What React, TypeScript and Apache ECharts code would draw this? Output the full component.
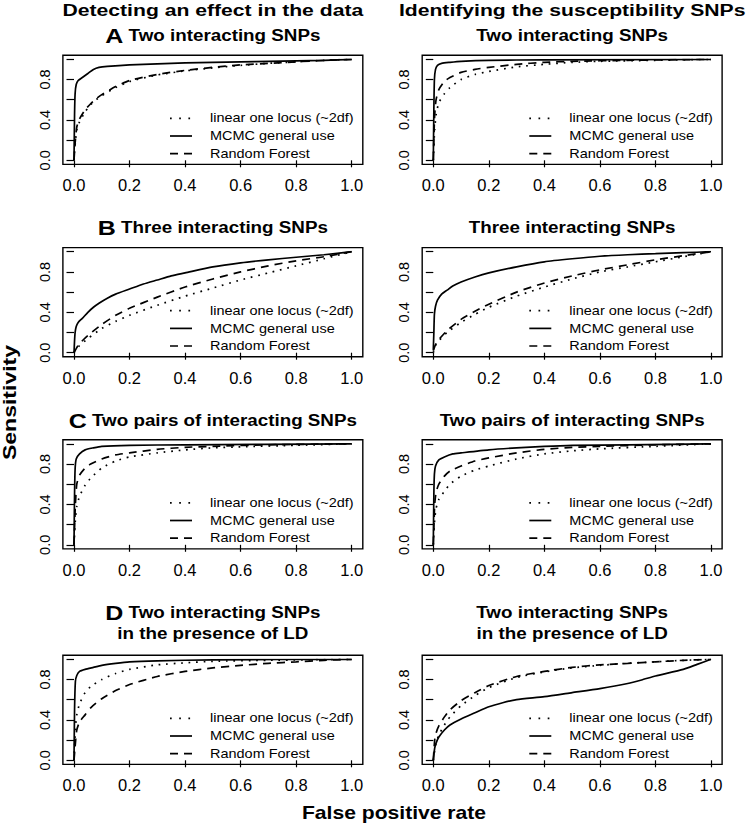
import React, { useEffect, useRef } from "react";
import * as echarts from "echarts";

const W = 747;
const H = 827;
const FONT = "Liberation Sans";

// ---------- data (false positive rate, sensitivity) ----------
const aL_linear = [[0,0],[0.003,0.12],[0.005,0.18],[0.01,0.3],[0.02,0.38],[0.04,0.48],[0.06,0.55],[0.08,0.6],[0.1,0.64],[0.15,0.72],[0.2,0.78],[0.3,0.845],[0.4,0.885],[0.5,0.915],[0.6,0.94],[0.7,0.96],[0.8,0.975],[0.9,0.99],[1,1]];
const aL_mcmc = [[0,0],[0.002,0.45],[0.004,0.66],[0.008,0.75],[0.015,0.79],[0.03,0.82],[0.05,0.86],[0.07,0.9],[0.09,0.92],[0.12,0.93],[0.2,0.945],[0.3,0.955],[0.4,0.965],[0.5,0.97],[0.6,0.975],[0.7,0.98],[0.8,0.985],[0.9,0.99],[1,1]];
const aL_rf = [[0,0],[0.003,0.13],[0.005,0.2],[0.01,0.33],[0.02,0.41],[0.04,0.5],[0.06,0.56],[0.08,0.61],[0.1,0.65],[0.15,0.73],[0.2,0.79],[0.3,0.85],[0.4,0.89],[0.5,0.92],[0.6,0.945],[0.7,0.96],[0.8,0.975],[0.9,0.99],[1,1]];

const aR_linear = [[0,0],[0.003,0.2],[0.005,0.3],[0.01,0.45],[0.02,0.57],[0.04,0.66],[0.06,0.72],[0.1,0.8],[0.15,0.85],[0.2,0.88],[0.3,0.925],[0.4,0.95],[0.5,0.97],[0.6,0.98],[0.8,0.99],[1,1]];
const aR_mcmc = [[0,0],[0.002,0.5],[0.004,0.8],[0.008,0.9],[0.015,0.94],[0.03,0.96],[0.06,0.97],[0.1,0.98],[0.2,0.99],[0.4,0.995],[1,1]];
const aR_rf = [[0,0],[0.003,0.3],[0.005,0.45],[0.01,0.6],[0.02,0.7],[0.04,0.78],[0.06,0.82],[0.1,0.87],[0.15,0.9],[0.2,0.92],[0.3,0.95],[0.4,0.97],[0.5,0.98],[0.7,0.99],[1,1]];

const bL_linear = [[0,0],[0.01,0.04],[0.02,0.07],[0.05,0.14],[0.1,0.24],[0.15,0.31],[0.2,0.37],[0.3,0.47],[0.4,0.56],[0.5,0.64],[0.6,0.72],[0.7,0.79],[0.8,0.86],[0.9,0.93],[1,1]];
const bL_mcmc = [[0,0],[0.002,0.12],[0.004,0.2],[0.008,0.26],[0.015,0.3],[0.03,0.34],[0.05,0.4],[0.07,0.45],[0.09,0.49],[0.12,0.54],[0.15,0.58],[0.2,0.63],[0.25,0.68],[0.3,0.72],[0.35,0.76],[0.4,0.79],[0.5,0.85],[0.6,0.89],[0.7,0.92],[0.8,0.945],[0.9,0.97],[1,1]];
const bL_rf = [[0,0],[0.01,0.05],[0.02,0.09],[0.05,0.17],[0.1,0.28],[0.15,0.37],[0.2,0.44],[0.3,0.55],[0.4,0.65],[0.5,0.73],[0.6,0.8],[0.7,0.86],[0.8,0.91],[0.9,0.95],[1,1]];

const bR_linear = [[0,0],[0.005,0.05],[0.01,0.08],[0.02,0.12],[0.05,0.2],[0.1,0.3],[0.15,0.38],[0.2,0.45],[0.3,0.56],[0.4,0.65],[0.5,0.73],[0.6,0.8],[0.7,0.85],[0.8,0.9],[0.9,0.95],[1,1]];
const bR_mcmc = [[0,0.03],[0.002,0.2],[0.004,0.38],[0.008,0.46],[0.015,0.52],[0.03,0.58],[0.05,0.62],[0.07,0.66],[0.1,0.7],[0.15,0.75],[0.2,0.79],[0.3,0.85],[0.4,0.9],[0.5,0.93],[0.6,0.955],[0.7,0.97],[0.8,0.98],[0.9,0.99],[1,1]];
const bR_rf = [[0,0.02],[0.005,0.06],[0.01,0.09],[0.02,0.13],[0.05,0.22],[0.1,0.33],[0.15,0.41],[0.2,0.48],[0.3,0.6],[0.4,0.69],[0.5,0.76],[0.6,0.82],[0.7,0.87],[0.8,0.92],[0.9,0.96],[1,1]];

const cL_linear = [[0,0],[0.003,0.15],[0.005,0.25],[0.01,0.38],[0.02,0.48],[0.04,0.59],[0.06,0.66],[0.1,0.76],[0.15,0.83],[0.2,0.87],[0.3,0.91],[0.4,0.94],[0.5,0.96],[0.6,0.97],[0.8,0.985],[1,1]];
const cL_mcmc = [[0,0],[0.002,0.5],[0.004,0.75],[0.008,0.85],[0.02,0.9],[0.04,0.94],[0.07,0.96],[0.1,0.975],[0.2,0.985],[0.4,0.99],[1,1]];
const cL_rf = [[0,0],[0.003,0.25],[0.005,0.4],[0.01,0.6],[0.02,0.69],[0.04,0.76],[0.06,0.8],[0.1,0.85],[0.15,0.89],[0.2,0.91],[0.3,0.945],[0.4,0.965],[0.5,0.975],[0.7,0.99],[1,1]];

const cR_linear = [[0,0],[0.003,0.15],[0.005,0.25],[0.01,0.36],[0.02,0.45],[0.04,0.53],[0.06,0.6],[0.1,0.68],[0.15,0.74],[0.2,0.78],[0.3,0.85],[0.4,0.9],[0.5,0.93],[0.6,0.95],[0.8,0.975],[1,1]];
const cR_mcmc = [[0,0],[0.002,0.5],[0.004,0.7],[0.008,0.78],[0.02,0.84],[0.04,0.87],[0.07,0.9],[0.1,0.91],[0.2,0.94],[0.3,0.96],[0.4,0.975],[0.5,0.985],[0.7,0.99],[1,1]];
const cR_rf = [[0,0],[0.003,0.25],[0.005,0.4],[0.01,0.52],[0.02,0.6],[0.04,0.68],[0.06,0.73],[0.1,0.78],[0.15,0.83],[0.2,0.86],[0.3,0.91],[0.4,0.945],[0.5,0.965],[0.6,0.975],[0.8,0.99],[1,1]];

const dL_linear = [[0,0],[0.003,0.2],[0.006,0.35],[0.01,0.45],[0.02,0.56],[0.04,0.67],[0.06,0.73],[0.1,0.8],[0.15,0.86],[0.2,0.9],[0.3,0.945],[0.4,0.965],[0.5,0.98],[0.7,0.99],[1,1]];
const dL_mcmc = [[0,0],[0.002,0.5],[0.005,0.78],[0.01,0.84],[0.02,0.88],[0.04,0.9],[0.07,0.92],[0.1,0.94],[0.15,0.96],[0.2,0.975],[0.3,0.985],[0.5,0.995],[1,1]];
const dL_rf = [[0,0],[0.003,0.1],[0.006,0.2],[0.01,0.3],[0.02,0.38],[0.04,0.45],[0.06,0.52],[0.1,0.61],[0.15,0.69],[0.2,0.75],[0.3,0.83],[0.4,0.88],[0.5,0.915],[0.6,0.94],[0.7,0.96],[0.8,0.975],[0.9,0.99],[1,1]];

const dR_linear = [[0,0],[0.005,0.1],[0.01,0.17],[0.02,0.25],[0.04,0.35],[0.06,0.43],[0.1,0.54],[0.15,0.64],[0.2,0.72],[0.3,0.82],[0.4,0.875],[0.5,0.915],[0.6,0.94],[0.7,0.96],[0.8,0.975],[0.9,0.99],[1,1]];
const dR_mcmc = [[0,0],[0.005,0.12],[0.01,0.17],[0.02,0.23],[0.04,0.3],[0.06,0.35],[0.1,0.41],[0.15,0.47],[0.2,0.53],[0.25,0.57],[0.3,0.6],[0.4,0.63],[0.5,0.67],[0.6,0.71],[0.7,0.76],[0.75,0.795],[0.8,0.835],[0.9,0.9],[0.95,0.95],[1,1]];
const dR_rf = [[0,0],[0.005,0.2],[0.01,0.27],[0.02,0.34],[0.04,0.43],[0.06,0.5],[0.1,0.59],[0.15,0.67],[0.2,0.74],[0.3,0.83],[0.4,0.88],[0.5,0.92],[0.6,0.945],[0.7,0.96],[0.8,0.975],[0.9,0.99],[1,1]];

const seriesNames = ["linear one locus (~2df)", "MCMC general use", "Random Forest"];
const columnHeaders = ["Detecting an effect in the data", "Identifying the susceptibility SNPs"];
const rowLetters = ["A", "B", "C", "D"];
const rowTitles = [
  ["Two interacting SNPs"],
  ["Three interacting SNPs"],
  ["Two pairs of interacting SNPs"],
  ["Two interacting SNPs", "in the presence of LD"],
];
const xAxisTitle = "False positive rate";
const yAxisTitle = "Sensitivity";

const panels = [
  { row: 0, col: 0, data: [aL_linear, aL_mcmc, aL_rf] },
  { row: 0, col: 1, data: [aR_linear, aR_mcmc, aR_rf] },
  { row: 1, col: 0, data: [bL_linear, bL_mcmc, bL_rf] },
  { row: 1, col: 1, data: [bR_linear, bR_mcmc, bR_rf] },
  { row: 2, col: 0, data: [cL_linear, cL_mcmc, cL_rf] },
  { row: 2, col: 1, data: [cR_linear, cR_mcmc, cR_rf] },
  { row: 3, col: 0, data: [dL_linear, dL_mcmc, dL_rf] },
  { row: 3, col: 1, data: [dR_linear, dR_mcmc, dR_rf] },
];

// ---------- layout ----------
const colX = [74, 433.3];
const rowY = [59.3, 251.7, 443.8, 659.3];
const PW = 277.7;
const PH = 101;
const PAD = 0.04;
const LW = 1.7;
const dashTypes: any[] = [[1.7, 5.8], "solid", [8, 6]];
const titleY = [[35.5], [227.5], [421], [612.5, 634]];
const legendRows = [59, 76.7, 94.3];
const SX = 1.2; // horizontal stretch of the source figure's text

function txt(x: number, y: number, text: string, size: number, bold: boolean, sx: number, extra: any = {}) {
  return {
    type: "text",
    x,
    y,
    scaleX: sx,
    ...extra,
    style: {
      text,
      fontFamily: FONT,
      fontWeight: bold ? "bold" : "normal",
      fontSize: size,
      fill: "#000",
      align: extra.align || "center",
      verticalAlign: "middle",
      ...(extra.style || {}),
    },
  };
}

function buildOption() {
  const grid = panels.map((p) => ({
    left: colX[p.col],
    top: rowY[p.row],
    width: PW,
    height: PH,
    containLabel: false,
    outerBoundsMode: "none",
  }));
  const xAxis = panels.map((p, i) => ({
    gridIndex: i,
    type: "value",
    min: 0,
    max: 1,
    interval: 0.2,
    position: "bottom",
    offset: PH * PAD,
    axisLine: { show: false },
    axisTick: { show: true, length: 7, lineStyle: { color: "#000", width: 1.2 } },
    axisLabel: {
      color: "#000",
      fontFamily: FONT,
      fontSize: 16.5,
      margin: 12.5,
      formatter: (v: number) => v.toFixed(1),
    },
    splitLine: { show: false },
  }));
  const yAxis = panels.map((p, i) => ({
    gridIndex: i,
    type: "value",
    min: 0,
    max: 1,
    interval: 0.2,
    position: "left",
    offset: PW * PAD,
    axisLine: { show: false },
    axisTick: { show: true, length: 7.5, lineStyle: { color: "#000", width: 1.2 } },
    axisLabel: {
      color: "#000",
      fontFamily: FONT,
      fontSize: 14.5,
      rotate: 90,
      margin: 10.5,
      formatter: (v: number) => (Math.round(v * 10) % 4 === 0 ? v.toFixed(1) : ""),
    },
    splitLine: { show: false },
  }));
  const series: any[] = [];
  panels.forEach((p, i) => {
    p.data.forEach((d, k) => {
      series.push({
        type: "line",
        name: seriesNames[k],
        xAxisIndex: i,
        yAxisIndex: i,
        data: d,
        symbol: "none",
        showSymbol: false,
        smooth: 0.2,
        silent: true,
        lineStyle: { color: "#000", width: LW, type: dashTypes[k] },
      });
    });
  });

  const graphic: any[] = [];
  // frames
  panels.forEach((p) => {
    graphic.push({
      type: "rect",
      shape: {
        x: colX[p.col] - PW * PAD,
        y: rowY[p.row] - PH * PAD,
        width: PW * (1 + 2 * PAD),
        height: PH * (1 + 2 * PAD),
      },
      style: { fill: "none", stroke: "#000", lineWidth: 1.4 },
      silent: true,
    });
  });
  // column headers
  columnHeaders.forEach((t, c) => {
    graphic.push(txt(colX[c] + PW / 2, 10, t, 17.2, true, 1.23));
  });
  // panel titles
  panels.forEach((p) => {
    const lines = rowTitles[p.row];
    lines.forEach((line, li) => {
      const withLetter = p.col === 0 && li === 0;
      graphic.push(
        txt(colX[p.col] + PW / 2, titleY[p.row][li], withLetter ? `{l|${rowLetters[p.row]}} {t|${line}}` : line, 15.8, true, 1.19, {
          style: {
            rich: {
              l: { fontFamily: FONT, fontWeight: "bold", fontSize: 21, fill: "#000" },
              t: { fontFamily: FONT, fontWeight: "bold", fontSize: 15.8, fill: "#000" },
            },
          },
        })
      );
    });
  });
  // legends
  panels.forEach((p) => {
    seriesNames.forEach((name, k) => {
      const y = rowY[p.row] + legendRows[k];
      graphic.push({
        type: "line",
        shape: { x1: colX[p.col] + 96, y1: y, x2: colX[p.col] + 118, y2: y },
        style: {
          stroke: "#000",
          lineWidth: LW,
          lineDash: k === 0 ? [1.7, 7.5] : k === 2 ? [8, 6] : null,
        },
        silent: true,
      });
      graphic.push(txt(colX[p.col] + 136, y, name, 12.6, false, 1.15, { align: "left" }));
    });
  });
  // axis titles
  graphic.push(txt(394, 813, xAxisTitle, 17.6, true, SX));
  graphic.push(txt(9.5, 402.5, yAxisTitle, 18, true, 1.28, { rotation: Math.PI / 2 }));

  return {
    animation: false,
    backgroundColor: "#fff",
    grid,
    xAxis,
    yAxis,
    series,
    graphic: { elements: graphic },
  };
}

export default function App() {
  const ref = useRef<HTMLDivElement>(null);
  useEffect(() => {
    if (!ref.current) return;
    const chart = echarts.init(ref.current, undefined, { renderer: "svg", width: W, height: H });
    chart.setOption(buildOption() as any);
    return () => chart.dispose();
  }, []);
  return (
    <div
      ref={ref}
      style={{ position: "fixed", left: 0, top: 0, width: W, height: H, background: "#fff" }}
    />
  );
}
